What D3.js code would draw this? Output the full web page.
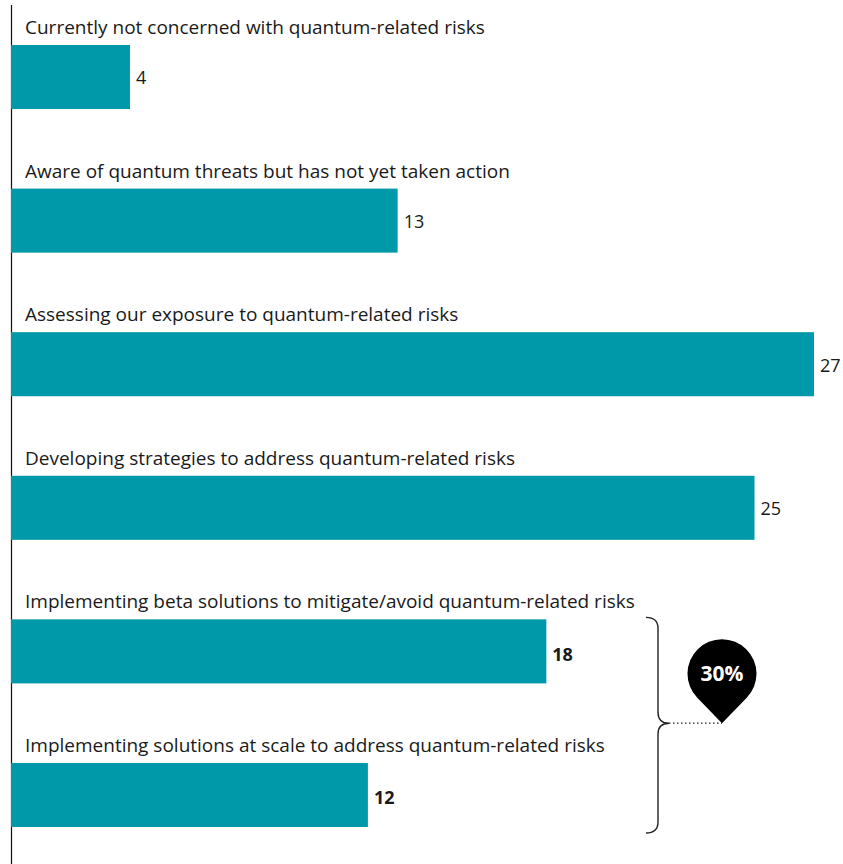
<!DOCTYPE html>
<html>
<head>
<meta charset="utf-8">
<script src="https://cdn.jsdelivr.net/npm/d3@7"></script>
<style>
  html, body { margin: 0; padding: 0; background: #fff; }
  svg { display: block; font-family: "Open Sans", sans-serif; }
</style>
</head>
<body>
<svg id="chart" width="843" height="864"></svg>
<script>
const categories = [
  "Currently not concerned with quantum-related risks",
  "Aware of quantum threats but has not yet taken action",
  "Assessing our exposure to quantum-related risks",
  "Developing strategies to address quantum-related risks",
  "Implementing beta solutions to mitigate/avoid quantum-related risks",
  "Implementing solutions at scale to address quantum-related risks"
];
const values = [4, 13, 27, 25, 18, 12];
const groupedCategories = [
  "Implementing beta solutions to mitigate/avoid quantum-related risks",
  "Implementing solutions at scale to address quantum-related risks"
];
const groupLabel = "30%";

const svg = d3.select("#chart");
const barColor = "#0099a9";

const x = d3.scaleLinear().domain([0, 27]).range([11, 814]);
const y = d3.scaleBand().domain(categories).range([45, 827]).paddingInner(0.554).paddingOuter(0);

// axis line
svg.append("line")
  .attr("x1", 11.5).attr("x2", 11.5)
  .attr("y1", 5).attr("y2", 864)
  .attr("stroke", "#111").attr("stroke-width", 1.2);

const rows = svg.append("g").selectAll("g").data(categories).join("g");

rows.append("rect")
  .attr("x", x(0))
  .attr("y", d => y(d))
  .attr("width", (d, i) => x(values[i]) - x(0))
  .attr("height", y.bandwidth())
  .attr("fill", barColor);

rows.append("text")
  .attr("x", 25)
  .attr("y", (d, i) => y(d) - 11)
  .attr("font-size", 19)
  .attr("fill", "#1a1a1a")
  .text(d => d);

rows.append("text")
  .attr("x", (d, i) => x(values[i]) + 6)
  .attr("y", d => y(d) + y.bandwidth() / 2 + (groupedCategories.includes(d) ? 3 : 1))
  .attr("dy", "0.35em")
  .attr("font-size", 18)
  .attr("font-weight", d => groupedCategories.includes(d) ? 700 : 400)
  .attr("fill", "#1a1a1a")
  .text((d, i) => values[i]);

// bracket
const gTop = y(groupedCategories[0]) - 2;
const gBot = y(groupedCategories[groupedCategories.length - 1]) + y.bandwidth() + 6;
const gMid = (gTop + gBot) / 2 - 2;
const bx = 658, bl = 646, r = 11;
const bracket = d3.path();
bracket.moveTo(bl, gTop);
bracket.quadraticCurveTo(bx, gTop, bx, gTop + r);
bracket.lineTo(bx, gMid - r);
bracket.quadraticCurveTo(bx, gMid, bx + 11, gMid);
bracket.quadraticCurveTo(bx, gMid, bx, gMid + r);
bracket.lineTo(bx, gBot - r);
bracket.quadraticCurveTo(bx, gBot, bl, gBot);
svg.append("path")
  .attr("d", bracket.toString())
  .attr("fill", "none")
  .attr("stroke", "#222")
  .attr("stroke-width", 1.4);

// pin marker
const tipX = 722, tipY = gMid;
svg.append("line")
  .attr("x1", bx + 11).attr("x2", tipX)
  .attr("y1", gMid).attr("y2", gMid)
  .attr("stroke", "#222").attr("stroke-width", 1.2)
  .attr("stroke-dasharray", "1.5,2.5");

const pr = 34.5, cx = tipX, cy = tipY - 49.5;
const d = tipY - cy;
const ang = Math.acos(pr / d);
const pin = d3.path();
const a1 = Math.PI / 2 - ang, a2 = Math.PI / 2 + ang;
pin.moveTo(tipX, tipY);
pin.lineTo(cx + pr * Math.cos(a1), cy + pr * Math.sin(a1));
pin.arc(cx, cy, pr, a1, a2, true);
pin.closePath();
svg.append("path").attr("d", pin.toString()).attr("fill", "#000");

svg.append("text")
  .attr("x", cx).attr("y", cy)
  .attr("dy", "0.35em")
  .attr("text-anchor", "middle")
  .attr("font-size", 21)
  .attr("font-weight", 700)
  .attr("fill", "#fff")
  .text(groupLabel);
</script>
</body>
</html>
